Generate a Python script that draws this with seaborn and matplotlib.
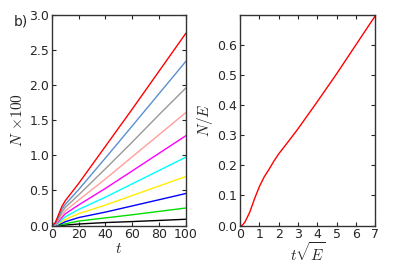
import numpy as np
import pandas as pd
import matplotlib
matplotlib.use("Agg")
import matplotlib.pyplot as plt
import seaborn as sns

# left panel: N x100 against t, one curve per energy
t = [0, 2.5, 5, 7.5, 10, 20, 40, 60, 80, 100]
colors = ['black', '#00dd00', 'blue', '#ffee00', 'cyan', 'magenta',
          '#ff9f9a', '#999999', '#5b8fd0', 'red']
n_black = [0, 0.0, 0.0016, 0.0036, 0.0066, 0.022, 0.043, 0.057, 0.073, 0.09]
n_green = [0, 0.001, 0.006, 0.015, 0.025, 0.064, 0.109, 0.154, 0.202, 0.25]
n_blue = [0, 0.003, 0.015, 0.032, 0.054, 0.114, 0.192, 0.28, 0.368, 0.457]
n_yellow = [0, 0.006, 0.026, 0.056, 0.086, 0.17, 0.292, 0.428, 0.564, 0.699]
n_cyan = [0, 0.010, 0.04, 0.085, 0.125, 0.23, 0.405, 0.595, 0.785, 0.975]
n_magenta = [0, 0.014, 0.058, 0.115, 0.168, 0.294, 0.53, 0.779, 1.03, 1.28]
n_salmon = [0, 0.020, 0.078, 0.150, 0.211, 0.364, 0.664, 0.98, 1.295, 1.61]
n_gray = [0, 0.026, 0.101, 0.192, 0.259, 0.437, 0.81, 1.19, 1.58, 1.96]
n_steel = [0, 0.032, 0.126, 0.234, 0.302, 0.513, 0.963, 1.42, 1.88, 2.34]
n_red = [0, 0.040, 0.156, 0.274, 0.354, 0.60, 1.13, 1.66, 2.20, 2.74]

# right panel: collapsed curve N/E against t*sqrt(E)
x_scaled = [0, 0.1, 0.25, 0.5, 0.75, 1, 1.25, 1.5, 1.75, 2, 2.5, 3, 3.5,
            4, 5, 6, 7]
n_over_e = [0, 0.0, 0.012, 0.045, 0.09, 0.13, 0.162, 0.187, 0.214, 0.238,
            0.279, 0.321, 0.366, 0.411, 0.503, 0.599, 0.695]

sns.set_style("ticks", {"xtick.direction": "in", "ytick.direction": "in",
                        "axes.edgecolor": "#333333"})
plt.rcParams['font.family'] = ['DejaVu Sans']
plt.rcParams['mathtext.fontset'] = 'cm'
plt.rcParams['xtick.top'] = True
plt.rcParams['ytick.right'] = True
plt.rcParams['font.size'] = 9

fig = plt.figure(figsize=(3.99, 2.66), dpi=100)
ax1 = fig.add_axes([0.130, 0.152, 0.336, 0.792])
ax2 = fig.add_axes([0.602, 0.152, 0.338, 0.792])

series = [n_black, n_green, n_blue, n_yellow, n_cyan, n_magenta,
          n_salmon, n_gray, n_steel, n_red]
for vals, c in zip(series, colors):
    df = pd.DataFrame({'t': t, 'N': vals})
    sns.lineplot(data=df, x='t', y='N', color=c, lw=1.0, ax=ax1)
ax1.set_xlim(0, 100)
ax1.set_ylim(0, 3.0)
ax1.set_xticks([0, 20, 40, 60, 80, 100])
ax1.set_yticks(np.arange(0, 3.01, 0.5))
ax1.set_xlabel(r'$t$', fontsize=11, labelpad=0)
ax1.set_ylabel(r'$N\,\times\!100$', fontsize=11, labelpad=3)

df2 = pd.DataFrame({'x': x_scaled, 'y': n_over_e})
sns.lineplot(data=df2, x='x', y='y', color='red', lw=1.0, ax=ax2)
ax2.set_xlim(0, 7)
ax2.set_ylim(0, 0.699)
ax2.set_xticks(range(0, 8))
ax2.set_yticks(np.arange(0, 0.61, 0.1))
ax2.set_xlabel(r'$t\sqrt{E}$', fontsize=11, labelpad=0)
ax2.set_ylabel(r'$N/E$', fontsize=11, labelpad=2)

for ax in (ax1, ax2):
    ax.tick_params(length=3, width=0.8, labelsize=9, pad=2)
    for s in ax.spines.values():
        s.set_linewidth(1.0)

fig.text(0.035, 0.905, 'b)', fontsize=10)

fig.savefig('out.png', dpi=100)
